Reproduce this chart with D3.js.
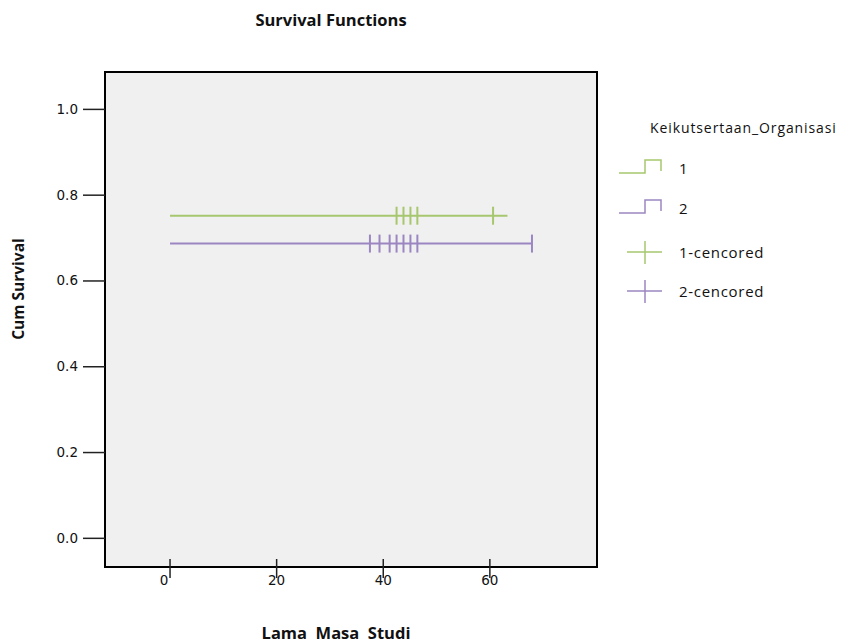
<!DOCTYPE html>
<html>
<head>
<meta charset="utf-8">
<script src="https://cdn.jsdelivr.net/npm/d3@7"></script>
<style>
  body { margin: 0; background: #ffffff; }
  svg text { fill: #111; }
</style>
</head>
<body>
<div id="chart"></div>
<script>
// ---- data ----
const groups = ["1", "2"];
const survivalLevel = [0.751, 0.686];          // flat survival value for each group
const startTime = [0, 0];
const endTime = [63.3, 67.9];                  // where each step line stops
const censored1 = [42.5, 43.8, 45.1, 46.4, 60.6];
const censored2 = [37.5, 39.3, 41.2, 42.5, 43.8, 45.1, 46.4, 67.9];
const xTicks = [0, 20, 40, 60];
const yTicks = [0.0, 0.2, 0.4, 0.6, 0.8, 1.0];
const legendLabels = ["1", "2", "1-cencored", "2-cencored"];

const colors = ["#a6c76e", "#9b86c1"];

const width = 843, height = 643;
const margin = {top: 72, left: 105, right: 246, bottom: 76};

const svg = d3.select("#chart").append("svg")
    .attr("width", width)
    .attr("height", height);

const fontTitle = "'Open Sans', sans-serif";
const fontTick = "'DejaVu Sans', sans-serif";

/***** scales *****/
const xScale = d3.scaleLinear()
    .domain([-12.2, 80.1])
    .range([margin.left, width - margin.right]);

const yScale = d3.scaleLinear()
    .domain([-0.068, 1.086])
    .range([height - margin.bottom, margin.top]);

/***** panel *****/
svg.append("rect")
    .attr("x", margin.left)
    .attr("y", margin.top)
    .attr("width", width - margin.left - margin.right)
    .attr("height", height - margin.top - margin.bottom)
    .attr("fill", "#f0f0f0");

/***** lines & censor marks *****/
const plot = svg.append("g");
const censoredAll = [censored1, censored2];

groups.forEach((g, i) => {
    plot.append("line")
        .attr("x1", xScale(startTime[i]))
        .attr("x2", xScale(endTime[i]))
        .attr("y1", yScale(survivalLevel[i]))
        .attr("y2", yScale(survivalLevel[i]))
        .attr("stroke", colors[i])
        .attr("stroke-width", 2);

    plot.selectAll(".cens" + i)
        .data(censoredAll[i])
        .enter()
        .append("line")
        .attr("class", "cens" + i)
        .attr("x1", d => xScale(d))
        .attr("x2", d => xScale(d))
        .attr("y1", yScale(survivalLevel[i]) - 9)
        .attr("y2", yScale(survivalLevel[i]) + 9)
        .attr("stroke", colors[i])
        .attr("stroke-width", 2);
});

/***** frame *****/
svg.append("rect")
    .attr("x", margin.left)
    .attr("y", margin.top)
    .attr("width", width - margin.left - margin.right)
    .attr("height", height - margin.top - margin.bottom)
    .attr("fill", "none")
    .attr("stroke", "#000")
    .attr("stroke-width", 2);

/***** y axis *****/
const yAxis = svg.append("g")
    .attr("transform", `translate(${margin.left}, 0)`)
    .call(d3.axisLeft(yScale)
        .tickValues(yTicks)
        .tickFormat(d3.format(".1f"))
        .tickSize(22)
        .tickPadding(5));
yAxis.select(".domain").remove();
yAxis.selectAll(".tick line").attr("stroke", "#222").attr("stroke-width", 1.5);
yAxis.selectAll(".tick text")
    .style("font-family", fontTick)
    .style("font-size", "13.5px")
    .attr("fill", "#222");

/***** x axis *****/
const xBase = height - margin.bottom;
const xAxis = svg.append("g")
    .attr("transform", `translate(0, ${xBase})`);
xAxis.selectAll(".xtick")
    .data(xTicks)
    .enter()
    .append("line")
    .attr("x1", d => xScale(d))
    .attr("x2", d => xScale(d))
    .attr("y1", -8)
    .attr("y2", 11)
    .attr("stroke", "#222")
    .attr("stroke-width", 1.5);
xAxis.selectAll(".xlab")
    .data(xTicks)
    .enter()
    .append("text")
    .attr("x", d => xScale(d) - (d === 0 ? 6 : 0))
    .attr("y", 18)
    .attr("text-anchor", "middle")
    .style("font-family", fontTick)
    .style("font-size", "13.5px")
    .attr("fill", "#222")
    .text(d => d);

/***** titles *****/
svg.append("text")
    .attr("x", 331)
    .attr("y", 26)
    .attr("text-anchor", "middle")
    .style("font-family", fontTitle)
    .style("font-weight", "bold")
    .style("font-size", "16.5px")
    .text("Survival Functions");

svg.append("text")
    .attr("x", 336)
    .attr("y", 639)
    .attr("text-anchor", "middle")
    .style("font-family", fontTitle)
    .style("font-weight", "bold")
    .style("font-size", "16.5px")
    .style("white-space", "pre")
    .text("Lama  Masa  Studi");

svg.append("text")
    .attr("transform", "translate(24, 289) rotate(-90)")
    .attr("text-anchor", "middle")
    .style("font-family", fontTitle)
    .style("font-weight", "bold")
    .style("font-size", "15.5px")
    .text("Cum Survival");

/***** legend *****/
const legend = svg.append("g");
legend.append("text")
    .attr("x", 650)
    .attr("y", 133)
    .style("font-family", fontTitle)
    .style("font-size", "14px")
    .style("letter-spacing", "0.9px")
    .text("Keikutsertaan_Organisasi");

const stepY = [173, 213];
groups.forEach((g, i) => {
    const y0 = stepY[i];
    legend.append("path")
        .attr("d", `M${619},${y0} H645 V${y0 - 13} H661 V${y0 - 2}`)
        .attr("fill", "none")
        .attr("stroke", colors[i])
        .attr("stroke-width", 1.5);
    legend.append("text")
        .attr("x", 679)
        .attr("y", y0 + 1)
        .style("font-family", fontTitle)
        .style("font-size", "15px")
        .text(legendLabels[i]);
});

const crossY = [252, 291];
groups.forEach((g, i) => {
    const y0 = crossY[i];
    legend.append("line")
        .attr("x1", 627).attr("x2", 662)
        .attr("y1", y0).attr("y2", y0)
        .attr("stroke", colors[i]).attr("stroke-width", 1.5);
    legend.append("line")
        .attr("x1", 645).attr("x2", 645)
        .attr("y1", y0 - 11).attr("y2", y0 + 12)
        .attr("stroke", colors[i]).attr("stroke-width", 1.5);
    legend.append("text")
        .attr("x", 679)
        .attr("y", y0 + 6)
        .style("font-family", fontTitle)
        .style("font-size", "15px")
        .style("letter-spacing", "0.7px")
        .text(legendLabels[i + 2]);
});
</script>
</body>
</html>
